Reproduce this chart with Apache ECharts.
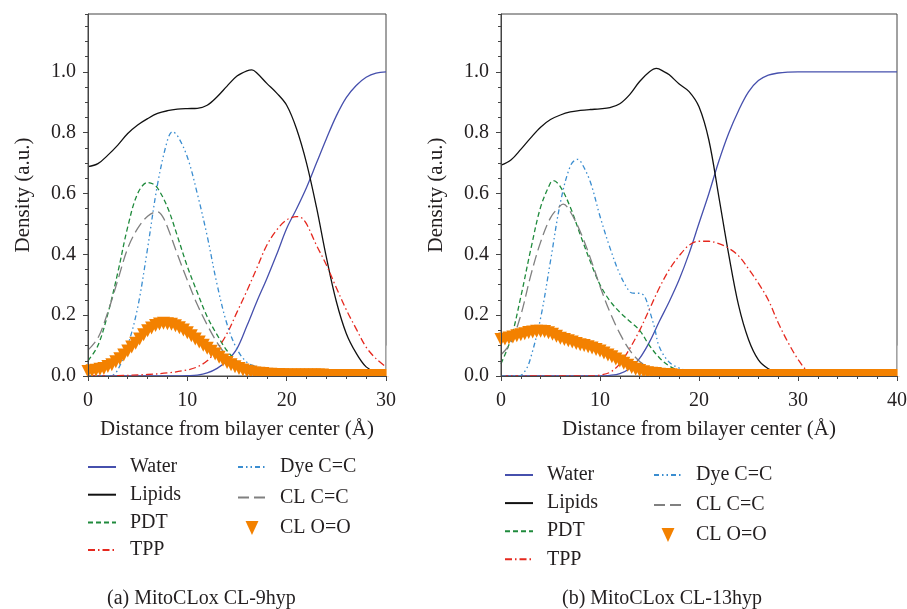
<!DOCTYPE html>
<html><head><meta charset="utf-8">
<script src="https://cdn.jsdelivr.net/npm/echarts@6.0.0/dist/echarts.min.js"></script>
<style>html,body{margin:0;padding:0;background:#fff}#c{width:907px;height:609px}</style>
</head><body><div id="c"></div>
<script>
// ---------- Panel (a): MitoCLox CL-9hyp  [distance Å, density] ----------
const water9 = [[0,0],[5,0],[9,0],[10,0.001],[11,0.003],[12,0.01],[13,0.025],[14,0.05],[15,0.09],[16,0.165],[17,0.245],[18,0.32],[19,0.4],[20,0.485],[21,0.55],[22,0.62],[23,0.7],[24,0.78],[25,0.855],[26,0.915],[27,0.955],[28,0.982],[29,0.996],[30,1.0]];
const lipids9 = [[0,0.688],[1,0.698],[2,0.726],[3,0.759],[4,0.797],[5,0.825],[6,0.846],[7,0.863],[8,0.872],[9,0.877],[10,0.879],[11,0.88],[12,0.89],[13,0.918],[14,0.953],[15,0.986],[16,1.003],[16.5,1.006],[17,0.996],[18,0.962],[19,0.93],[20,0.89],[21,0.812],[22,0.7],[23,0.555],[24,0.39],[25,0.245],[26,0.14],[27,0.075],[28,0.03],[29,0.013],[30,0.01]];
const pdt9 = [[0,0.05],[1,0.1],[2,0.205],[3,0.34],[4,0.49],[5,0.6],[6,0.636],[6.5,0.632],[7,0.618],[8,0.555],[9,0.46],[10,0.36],[11,0.275],[12,0.195],[13,0.135],[14,0.083],[15,0.048],[16,0.025],[17,0.015],[18,0.01],[20,0.006],[25,0.004],[30,0.003]];
const tpp9 = [[0,0],[3,0.001],[6,0.005],[8,0.01],[10,0.02],[11,0.03],[12,0.05],[13,0.088],[14,0.14],[15,0.21],[16,0.28],[17,0.355],[18,0.43],[19,0.48],[20,0.513],[21,0.524],[21.5,0.52],[22,0.5],[23,0.43],[24,0.365],[25,0.29],[26,0.218],[27,0.155],[28,0.095],[29,0.057],[30,0.03]];
const dye9 = [[0,0],[2,0],[2.5,0.003],[3,0.02],[4,0.1],[5,0.225],[6,0.42],[7,0.63],[8,0.775],[8.5,0.803],[9,0.79],[10,0.72],[11,0.6],[12,0.46],[13,0.3],[14,0.17],[15,0.088],[16,0.045],[17,0.03],[18,0.02],[19,0.012],[20,0.008],[25,0.004],[30,0.003]];
const clcc9 = [[0,0.085],[1,0.125],[2,0.21],[3,0.315],[4,0.42],[5,0.485],[6,0.525],[7,0.54],[7.5,0.525],[8,0.49],[9,0.4],[10,0.315],[11,0.235],[12,0.168],[13,0.11],[14,0.065],[15,0.035],[16,0.02],[17,0.012],[18,0.008],[20,0.005],[25,0.004],[30,0.003]];
const ooDist9 = [0,0.4,0.8,1.2,1.6,2,2.4,2.8,3.2,3.6,4,4.4,4.8,5.2,5.6,6,6.4,6.8,7.2,7.6,8,8.4,8.8,9.2,9.6,10,10.4,10.8,11.2,11.6,12,12.4,12.8,13.2,13.6,14,14.4,14.8,15.2,15.6,16,16.4,16.8,17.2,17.6,18,18.4,18.8,19.2,19.6,20,20.4,20.8,21.2,21.6,22,22.4,22.8,23.2,23.6,24,24.4,24.8,25.2,25.6,26,26.4,26.8,27.2,27.6,28,28.4,28.8,29.2,29.6,30];
const ooVal9 = [0.015,0.017,0.019,0.022,0.025,0.031,0.037,0.047,0.057,0.069,0.082,0.095,0.108,0.122,0.136,0.149,0.158,0.166,0.171,0.173,0.172,0.17,0.165,0.159,0.151,0.142,0.132,0.122,0.112,0.101,0.091,0.081,0.072,0.062,0.053,0.044,0.037,0.03,0.025,0.02,0.016,0.013,0.01,0.009,0.008,0.006,0.006,0.005,0.005,0.004,0.003,0.003,0.003,0.003,0.003,0.003,0.003,0.003,0.003,0.003,0.002,0.002,0.002,0.002,0.002,0.002,0.002,0.002,0.002,0.002,0.002,0.002,0.002,0.002,0.002,0.002];

// ---------- Panel (b): MitoCLox CL-13hyp ----------
const water13 = [[0,0],[5,0],[10,0],[11,0.002],[12,0.008],[13,0.025],[14,0.058],[15,0.112],[16,0.18],[17,0.245],[18,0.317],[19,0.403],[20,0.502],[21,0.6],[22,0.706],[23,0.798],[24,0.873],[25,0.934],[26,0.971],[27,0.989],[28,0.996],[29,0.999],[30,1.0],[35,1.0],[40,1.0]];
const lipids13 = [[0,0.693],[1,0.71],[2,0.745],[3,0.783],[4,0.818],[5,0.843],[6,0.858],[7,0.868],[8,0.873],[9,0.876],[10,0.878],[11,0.882],[12,0.895],[13,0.925],[14,0.968],[15,1.0],[15.7,1.011],[16.5,1.0],[17,0.99],[18,0.96],[19,0.935],[20,0.885],[21,0.775],[22,0.59],[23,0.4],[24,0.232],[25,0.12],[26,0.053],[27,0.024],[28,0.012],[30,0.01],[40,0.01]];
const pdt13 = [[0,0.04],[1,0.122],[2,0.26],[3,0.415],[4,0.555],[5,0.635],[5.3,0.642],[6,0.622],[7,0.555],[8,0.465],[9,0.378],[10,0.3],[11,0.247],[12,0.21],[13,0.18],[14,0.15],[15,0.1],[16,0.06],[17,0.033],[18,0.018],[19,0.012],[20,0.01],[30,0.005],[40,0.004]];
const tpp13 = [[0,0],[9,0],[10,0.003],[11,0.012],[12,0.04],[13,0.09],[14,0.15],[15,0.22],[16,0.29],[17,0.35],[18,0.395],[19,0.43],[20,0.443],[21,0.443],[22,0.435],[23,0.42],[24,0.395],[25,0.352],[26,0.305],[27,0.25],[28,0.175],[29,0.11],[30,0.055],[31,0.015],[32,0.004],[40,0]];
const dye13 = [[0,0],[1.8,0],[2.5,0.02],[3,0.06],[4,0.19],[5,0.378],[6,0.57],[7,0.69],[7.7,0.712],[8,0.708],[9,0.64],[10,0.525],[11,0.422],[12,0.335],[13,0.277],[13.5,0.272],[14,0.272],[14.5,0.262],[15,0.215],[15.5,0.16],[16,0.095],[17,0.045],[18,0.026],[19,0.015],[20,0.01],[30,0.005],[40,0.004]];
const clcc13 = [[0,0.07],[1,0.11],[2,0.2],[3,0.33],[4,0.44],[5,0.52],[6,0.56],[6.3,0.565],[7,0.54],[8,0.475],[9,0.39],[10,0.295],[11,0.21],[12,0.14],[13,0.085],[14,0.048],[15,0.028],[16,0.018],[17,0.012],[18,0.01],[25,0.005],[40,0.004]];
const ooDist13 = [0,0.4,0.8,1.2,1.6,2,2.4,2.8,3.2,3.6,4,4.4,4.8,5.2,5.6,6,6.4,6.8,7.2,7.6,8,8.4,8.8,9.2,9.6,10,10.4,10.8,11.2,11.6,12,12.4,12.8,13.2,13.6,14,14.4,14.8,15.2,15.6,16,16.4,16.8,17.2,17.6,18,18.4,18.8,19.2,19.6,20,20.4,20.8,21.2,21.6,22,22.4,22.8,23.2,23.6,24,24.4,24.8,25.2,25.6,26,26.4,26.8,27.2,27.6,28,28.4,28.8,29.2,29.6,30,30.4,30.8,31.2,31.6,32,32.4,32.8,33.2,33.6,34,34.4,34.8,35.2,35.6,36,36.4,36.8,37.2,37.6,38,38.4,38.8,39.2,39.6,40];
const ooVal13 = [0.12,0.122,0.125,0.128,0.132,0.136,0.139,0.143,0.145,0.147,0.147,0.146,0.142,0.137,0.131,0.124,0.12,0.116,0.112,0.107,0.103,0.1,0.096,0.092,0.087,0.082,0.076,0.069,0.063,0.056,0.049,0.042,0.035,0.028,0.022,0.018,0.014,0.011,0.009,0.008,0.006,0.005,0.004,0.004,
  0.002,0.002,0.002,0.002,0.002,0.002,0.002,0.002,0.002,0.002,0.002,0.002,0.002,0.002,0.002,0.002,0.002,0.002,0.002,0.002,0.002,0.002,0.002,0.002,0.002,0.002,0.002,0.002,0.002,0.002,0.002,0.002,0.002,0.002,0.002,0.002,0.002,0.002,0.002,0.002,0.002,0.002,0.002,0.002,0.002,0.002,0.002,0.002,0.002,0.002,0.002,0.002,0.002,0.002,0.002,0.002,0.002];

const legendColA = ['Water', 'Lipids', 'PDT', 'TPP'];
const legendColB = ['Dye C=C', 'CL C=C', 'CL O=O'];
const captions = ['(a) MitoCLox CL-9hyp', '(b) MitoCLox CL-13hyp'];
const xMax = [30, 40];
const yTickStep = 0.2;

// ---------- styling ----------
const FONT = '"Liberation Serif", "Times New Roman", serif';
const TXT = '#231f20';
const AX = '#444';
const C = {
  'Water':   { color: '#4650ad', type: 'solid' },
  'Lipids':  { color: '#111111', type: 'solid' },
  'PDT':     { color: '#1f8a3c', type: [5, 3] },
  'TPP':     { color: '#e5281e', type: [7, 3, 1.5, 3] },
  'Dye C=C': { color: '#3a8dd0', type: [5, 3, 1.5, 3, 1.5, 3] },
  'CL C=C':  { color: '#808080', type: [11, 5] },
  'CL O=O':  { color: '#f38100' }
};
const zip = (xs, ys) => xs.map((x, i) => [x, ys[i]]);

function mkX(gi) {
  return {
    type: 'value', gridIndex: gi, min: 0, max: xMax[gi], interval: 10, z: 20,
    name: 'Distance from bilayer center (Å)', nameLocation: 'middle', nameGap: 43,
    nameTextStyle: { fontFamily: FONT, fontSize: 21, color: TXT },
    axisLine: { show: true, onZero: false, lineStyle: { color: AX, width: 1 } },
    axisTick: { show: true, length: 5, lineStyle: { color: AX } },
    minorTick: { show: true, splitNumber: 5, length: 3, lineStyle: { color: AX } },
    axisLabel: { fontFamily: FONT, fontSize: 20, color: TXT, margin: 15, showMinLabel: true, showMaxLabel: true },
    splitLine: { show: false }, minorSplitLine: { show: false }
  };
}
function mkY(gi) {
  return {
    type: 'value', gridIndex: gi, min: 0, max: 1.19, interval: yTickStep, position: 'left', z: 20,
    name: 'Density (a.u.)', nameLocation: 'middle', nameGap: 54, nameRotate: 90,
    nameTextStyle: { fontFamily: FONT, fontSize: 21, color: TXT },
    axisLine: { show: true, onZero: false, lineStyle: { color: AX, width: 1 } },
    axisTick: { show: true, length: 5, lineStyle: { color: AX } },
    axisLabel: { fontFamily: FONT, fontSize: 20, color: TXT, margin: 12, showMaxLabel: false,
                 formatter: v => v.toFixed(1) },
    splitLine: { show: false }
  };
}
function mkYMinor(gi) {
  return {
    type: 'value', gridIndex: gi, min: 0, max: 1.19, interval: 0.05, position: 'left', z: 20,
    axisLine: { show: false }, axisTick: { show: true, length: 3, lineStyle: { color: AX } },
    axisLabel: { show: false }, splitLine: { show: false }
  };
}
function line(name, data, xi, yi) {
  return {
    type: 'line', name, data, xAxisIndex: xi, yAxisIndex: yi,
    showSymbol: false, symbol: 'none', smooth: 0.35, animation: false,
    lineStyle: { color: C[name].color, width: 1.3, type: C[name].type },
    itemStyle: { color: C[name].color }
  };
}
function tri(data, xi, yi) {
  return {
    type: 'scatter', name: 'CL O=O', data, xAxisIndex: xi, yAxisIndex: yi,
    symbol: 'triangle', symbolRotate: 180, symbolSize: [13, 13], animation: false, z: 5,
    itemStyle: { color: C['CL O=O'].color, opacity: 1 }
  };
}
const TRI = 'path://M0,0L12,0L6,13Z';
function legend(data, left, top, gap) {
  return {
    orient: 'vertical', left, top, itemGap: gap, padding: 0, selectedMode: false,
    itemWidth: 28, itemHeight: 14,
    data: data.map(n => n === 'CL O=O' ? { name: n, icon: TRI } : { name: n, itemStyle: { opacity: 0, borderWidth: 0 } }),
    textStyle: { fontFamily: FONT, fontSize: 20, color: TXT, lineHeight: 20, padding: [0, 0, 0, 9] }
  };
}

const chart = echarts.init(document.getElementById('c'), null, { renderer: 'canvas' });
chart.setOption({
  backgroundColor: '#fff',
  animation: false,
  title: [
    { text: captions[0], left: 107, top: 589, padding: 0, textStyle: { fontFamily: FONT, fontSize: 20, fontWeight: 'normal', color: TXT } },
    { text: captions[1], left: 562, top: 589, padding: 0, textStyle: { fontFamily: FONT, fontSize: 20, fontWeight: 'normal', color: TXT } }
  ],
  grid: [
    { left: 88, top: 14, width: 298, height: 362, show: true, borderColor: AX, borderWidth: 1, backgroundColor: 'transparent', outerBoundsMode: 'none', containLabel: false },
    { left: 501, top: 14, width: 396, height: 362, show: true, borderColor: AX, borderWidth: 1, backgroundColor: 'transparent', outerBoundsMode: 'none', containLabel: false }
  ],
  xAxis: [mkX(0), mkX(1)],
  yAxis: [mkY(0), mkYMinor(0), mkY(1), mkYMinor(1)],
  legend: [
    legend(legendColA, 87, 457, 7.7),
    legend(legendColB, 237, 457, 10.5),
    legend(legendColA, 504, 465, 8.1),
    legend(legendColB, 653, 465, 10)
  ],
  series: [
    line('Water', water9, 0, 0), line('Lipids', lipids9, 0, 0), line('PDT', pdt9, 0, 0),
    line('TPP', tpp9, 0, 0), line('Dye C=C', dye9, 0, 0), line('CL C=C', clcc9, 0, 0),
    tri(zip(ooDist9, ooVal9), 0, 0),
    line('Water', water13, 1, 2), line('Lipids', lipids13, 1, 2), line('PDT', pdt13, 1, 2),
    line('TPP', tpp13, 1, 2), line('Dye C=C', dye13, 1, 2), line('CL C=C', clcc13, 1, 2),
    tri(zip(ooDist13, ooVal13), 1, 2)
  ]
});

// White masks: the markers are clipped at the bottom axis and right frame, as in the original figure.
const masks = [];
[0, 1].forEach(gi => {
  const o = chart.convertToPixel({ gridIndex: gi }, [0, 0]);
  const e = chart.convertToPixel({ gridIndex: gi }, [xMax[gi], 0.1]);
  masks.push({ type: 'rect', silent: true, z: 10,
    shape: { x: o[0] + 0.5, y: o[1] + 0.6, width: e[0] - o[0] + 10, height: 8 }, style: { fill: '#fff' } });
  masks.push({ type: 'rect', silent: true, z: 10,
    shape: { x: e[0] + 0.6, y: e[1], width: 9, height: o[1] - e[1] + 0.5 }, style: { fill: '#fff' } });
});
chart.setOption({ graphic: masks });
</script></body></html>
